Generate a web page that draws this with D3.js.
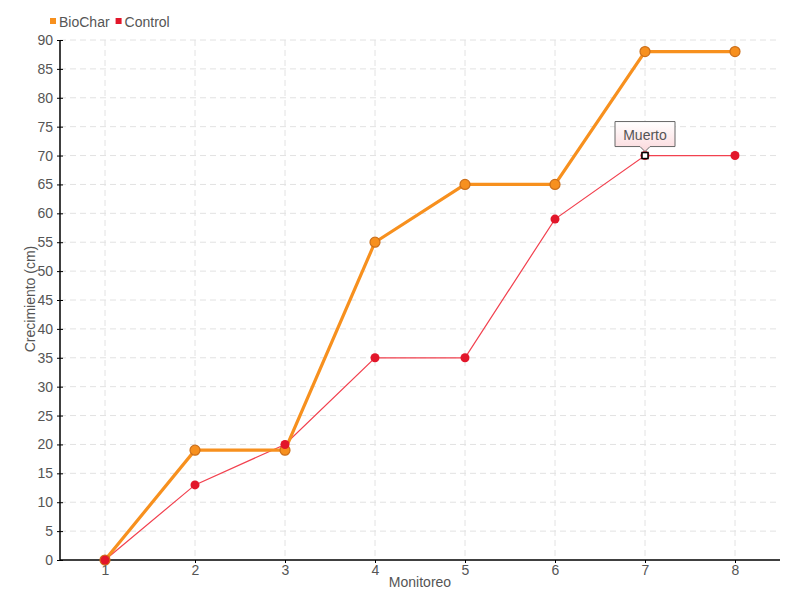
<!DOCTYPE html>
<html><head><meta charset="utf-8">
<script src="https://cdn.jsdelivr.net/npm/d3@7"></script>
<style>
body{margin:0;background:#fff;}
text{font-family:"Liberation Sans",Arial,sans-serif;fill:#555;}
</style></head>
<body><svg id="c" width="800" height="600"></svg>
<script>
const monitoreo = [1,2,3,4,5,6,7,8];
const biochar = [0,19,19,55,65,65,88,88];
const control = [0,13,20,35,35,59,70,70];
const yTicks = d3.range(0,95,5);
const seriesNames = ["BioChar","Control"];
const tooltipLabel = "Muerto";
const tooltipIndex = 6;

const svg = d3.select("#c");
const x = d3.scaleLinear().domain([0.5,8.5]).range([60,780]);
const y = d3.scaleLinear().domain([0,90]).range([560,40]);

// grid
const g = svg.append("g");
g.selectAll(".hg").data(yTicks.filter(d=>d>0)).join("line")
 .attr("x1",60).attr("x2",780).attr("y1",d=>y(d)).attr("y2",d=>y(d))
 .attr("stroke","#e2e2e2").attr("stroke-dasharray","6,4");
g.selectAll(".vg").data(monitoreo).join("line")
 .attr("y1",40).attr("y2",560).attr("x1",d=>x(d)).attr("x2",d=>x(d))
 .attr("stroke","#e2e2e2").attr("stroke-dasharray","6,4");

// axes
const ya = svg.append("g").attr("transform","translate(60,0)")
 .call(d3.axisLeft(y).tickValues(yTicks).tickSize(3).tickPadding(4));
ya.select(".domain").attr("stroke","#000").attr("stroke-width",1.5).attr("d","M0,40V560");
ya.selectAll(".tick line").attr("x2",-3).attr("x1",3).attr("stroke","#000");
ya.selectAll("text").style("font-size","14px").attr("fill","#555");
const xa = svg.append("g").attr("transform","translate(0,560)")
 .call(d3.axisBottom(x).tickValues(monitoreo).tickSize(3).tickPadding(2).tickFormat(d3.format("d")));
xa.select(".domain").attr("stroke","#000").attr("stroke-width",1.5).attr("d","M60,0H780");
xa.selectAll(".tick line").attr("stroke","#000");
xa.selectAll("text").style("font-size","14px").attr("fill","#555");

svg.append("text").attr("x",420).attr("y",587).attr("text-anchor","middle")
 .style("font-size","14px").text("Monitoreo");
svg.append("text").attr("transform","translate(35,299) rotate(-90)").attr("text-anchor","middle")
 .style("font-size","14px").text("Crecimiento (cm)");

// lines
const line = d3.line().x((d,i)=>x(monitoreo[i])).y(d=>y(d));
svg.append("path").datum(control).attr("d",line).attr("fill","none")
 .attr("stroke","#f2414f").attr("stroke-width",1.2);
svg.append("path").datum(biochar).attr("d",line).attr("fill","none")
 .attr("stroke","#f7901e").attr("stroke-width",3.2);
svg.selectAll(".bm").data(biochar).join("circle")
 .attr("cx",(d,i)=>x(monitoreo[i])).attr("cy",d=>y(d)).attr("r",5)
 .attr("fill","#f7901e").attr("stroke","#cc6f1a").attr("stroke-width",1.2);
svg.selectAll(".cm").data(control).join("circle")
 .attr("cx",(d,i)=>x(monitoreo[i])).attr("cy",d=>y(d)).attr("r",4.5)
 .attr("fill","#e2162a");

// highlighted point + tooltip
const tx = x(monitoreo[tooltipIndex]), ty = y(control[tooltipIndex]);
svg.append("rect").attr("x",tx-3).attr("y",ty-3).attr("width",6).attr("height",6)
 .attr("fill","#fff").attr("stroke","#000").attr("stroke-width",1.5);
const defs = svg.append("defs");
const lg = defs.append("linearGradient").attr("id","tg").attr("x1",0).attr("y1",0).attr("x2",0).attr("y2",1);
lg.append("stop").attr("offset","0%").attr("stop-color","#ffffff");
lg.append("stop").attr("offset","100%").attr("stop-color","#fbd9dc");
const bw=60,bh=25,by=ty-34;
svg.append("path")
 .attr("d",`M${tx-bw/2},${by} h${bw} v${bh} h${-bw/2+5} l-5,5 l-5,-5 h${-bw/2+5} Z`)
 .attr("fill","url(#tg)").attr("stroke","#666").attr("stroke-width",1);
svg.append("text").attr("x",tx).attr("y",by+18).attr("text-anchor","middle")
 .style("font-size","14px").attr("fill","#444").text(tooltipLabel);

// legend
const colors = ["#f7901e","#e2162a"];
const leg = svg.append("g");
let lx = 50;
seriesNames.forEach((n,i)=>{
  leg.append("rect").attr("x",lx).attr("y",18).attr("width",6).attr("height",6).attr("fill",colors[i]);
  const t = leg.append("text").attr("x",lx+9).attr("y",27).style("font-size","14px").attr("fill","#444").text(n);
  lx += 9 + t.node().getComputedTextLength() + 6;
});
</script></body></html>
